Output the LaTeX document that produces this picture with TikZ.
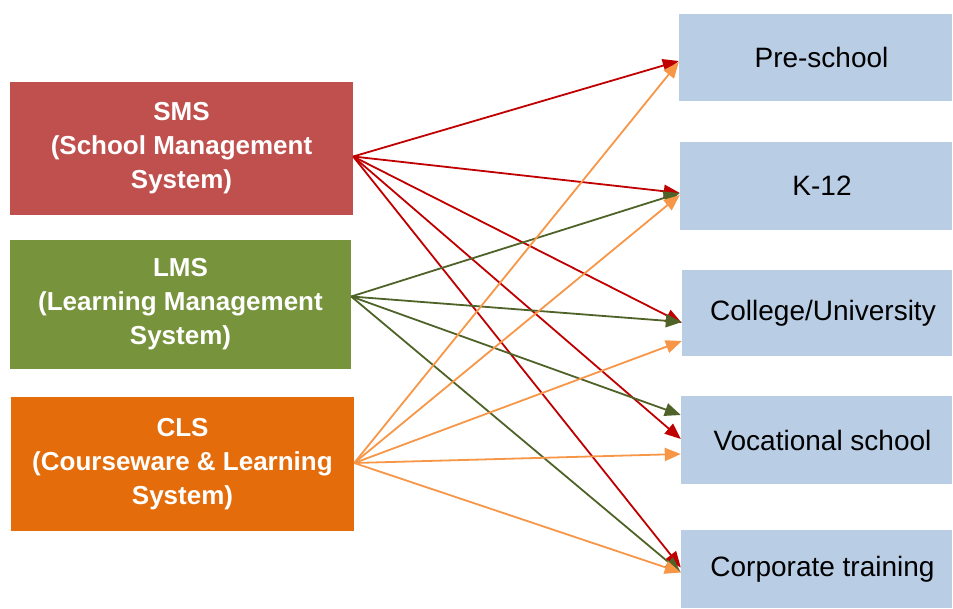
\documentclass[tikz,border=0pt]{standalone}
\usepackage{fontspec}
\setmainfont{Liberation Sans}
\usetikzlibrary{arrows.meta,positioning}
\definecolor{smsred}{HTML}{C0504D}
\definecolor{lmsgreen}{HTML}{77933C}
\definecolor{clsorange}{HTML}{E46C0A}
\definecolor{targetblue}{HTML}{B9CDE5}
\definecolor{arrowred}{HTML}{C00000}
\definecolor{arrowgreen}{HTML}{4F6228}
\definecolor{arroworange}{HTML}{F79646}
\tikzset{
  system/.style={rectangle, text=white, font=\bfseries\fontsize{26}{34}\selectfont, align=center, minimum width=343pt, minimum height=133pt, inner sep=0pt},
  target/.style={rectangle, fill=targetblue, font=\fontsize{28}{34}\selectfont, minimum width=273pt, minimum height=87pt, inner sep=0pt, execute at begin node={\hspace*{12pt}}},
  link/.style={-{Triangle[length=16pt,width=13pt]}, line width=1.8pt}
}

\begin{document}
\begin{tikzpicture}[x=1pt,y=-1pt]
\useasboundingbox (0,0) rectangle (953,608);

% Systems (left)
\node[system, fill=smsred] (sms) at (181.5,148.5) {SMS\\(School Management\\System)};
\node[system, fill=lmsgreen, minimum width=341pt, minimum height=129pt] (lms) at (180.5,304.5) {LMS\\(Learning Management\\System)};
\node[system, fill=clsorange, minimum height=134pt] (cls) at (182.5,464) {CLS\\(Courseware \& Learning\\System)};

% Schools (right)
\node[target] (pre) at (815.5,57.5) {Pre-school};
\node[target, minimum width=272pt, minimum height=88pt] (k12) at (816,186) {K-12};
\node[target, minimum width=270pt, minimum height=86pt] (college) at (817,313) {College/University};
\node[target, minimum width=271pt, minimum height=88pt] (vocational) at (816.5,440) {Vocational school};
\node[target, minimum width=271pt, minimum height=78pt] (corporate) at (816.5,569) {Corporate training};

% Draw arrows
\foreach \t/\s in {pre/-3.5,k12/-7,college/-10,vocational/1,corporate/1.5} {
  \draw[link, arrowred] ([yshift=-8pt]sms.east) -- ([yshift=\s pt]\t.west);
}
\foreach \t/\s in {k12/-7,college/-9,vocational/25,corporate/-3.5} {
  \draw[link, arrowgreen] ([yshift=8pt]lms.east) -- ([yshift=\s pt]\t.west);
}
\foreach \t/\s in {pre/-4.5,k12/-9,college/-28,vocational/-14,corporate/-3.5} {
  \draw[link, arroworange] ([yshift=1pt]cls.east) -- ([yshift=\s pt]\t.west);
}

\end{tikzpicture}
\end{document}
